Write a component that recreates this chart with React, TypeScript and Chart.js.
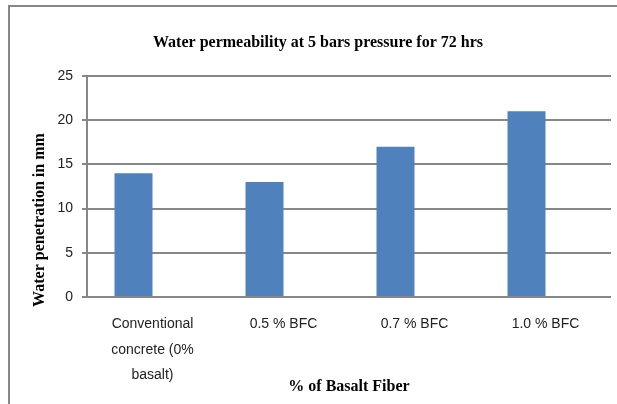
import React, { useEffect, useRef } from 'react';
import { Chart, registerables } from 'chart.js';

Chart.register(...registerables);

const CHART_TITLE = 'Water permeability at 5 bars pressure for 72 hrs';
const X_TITLE = '% of Basalt Fiber';
const Y_TITLE = 'Water penetration in mm';

const categories: (string | string[])[] = [
  ['Conventional', 'concrete (0%', 'basalt)'],
  '0.5 % BFC',
  '0.7 % BFC',
  '1.0 % BFC',
];
const waterPenetration = [14, 13, 17, 21];
const emptySeries = [null, null, null, null];

const Y_MIN = 0;
const Y_MAX = 25;
const Y_STEP = 5;

const GRID = '#878787';
const BAR = '#4F81BD';
const SANS = '"Liberation Sans", Arial, sans-serif';
const SERIF = '"Liberation Serif", "Times New Roman", serif';

const overlay = {
  id: 'overlay',
  beforeDraw(chart: any) {
    const ctx = chart.ctx;
    ctx.save();
    ctx.fillStyle = '#ffffff';
    ctx.fillRect(0, 0, chart.width, chart.height);
    ctx.strokeStyle = GRID;
    ctx.lineWidth = 2;
    ctx.strokeRect(9, 6, 800, 600);
    ctx.restore();
  },
  afterDraw(chart: any) {
    const ctx = chart.ctx;
    ctx.save();
    ctx.fillStyle = '#000000';
    ctx.font = `bold 16px ${SERIF}`;
    ctx.textAlign = 'center';
    ctx.textBaseline = 'middle';
    ctx.fillText(CHART_TITLE, 318, 43);
    ctx.translate(40, 220);
    ctx.rotate(-Math.PI / 2);
    ctx.fillText(Y_TITLE, 0, 0);
    ctx.restore();
  },
};

export default function App() {
  const ref = useRef<HTMLCanvasElement | null>(null);

  useEffect(() => {
    document.body.style.margin = '0';
    document.body.style.overflow = 'hidden';
    const canvas = ref.current;
    if (!canvas) return;
    const chart = new Chart(canvas, {
      type: 'bar',
      data: {
        labels: categories as any,
        datasets: [
          {
            label: 'Water penetration',
            data: waterPenetration,
            backgroundColor: BAR,
            borderWidth: 0,
            barPercentage: 1,
            categoryPercentage: 0.58,
          },
          {
            label: 'Empty',
            data: emptySeries as any,
            backgroundColor: BAR,
            borderWidth: 0,
            barPercentage: 1,
            categoryPercentage: 0.58,
          },
        ],
      },
      options: {
        responsive: false,
        animation: false,
        devicePixelRatio: 1,
        layout: { padding: { top: 76, right: 6, left: 0, bottom: 0 } },
        plugins: {
          legend: { display: false },
          title: { display: false },
          tooltip: { enabled: false },
        },
        scales: {
          x: {
            type: 'category',
            grid: { display: false, drawTicks: false },
            border: { display: false },
            ticks: {
              font: { family: SANS, size: 14, lineHeight: 1.8 },
              color: '#222222',
              padding: 15,
              maxRotation: 0,
              autoSkip: false,
            },
            title: {
              display: true,
              text: X_TITLE,
              font: { family: SERIF, size: 16, weight: 'bold' },
              color: '#000000',
              padding: { top: 0, bottom: 8 },
            },
            afterFit(scale: any) {
              scale.height = 107;
            },
          },
          y: {
            min: Y_MIN,
            max: Y_MAX,
            ticks: {
              stepSize: Y_STEP,
              font: { family: SANS, size: 14 },
              color: '#222222',
              padding: 9,
            },
            grid: { color: GRID, lineWidth: 2, tickLength: 5 },
            border: { display: true, color: GRID, width: 2 },
            afterFit(scale: any) {
              scale.width = 87;
            },
          },
        },
      },
      plugins: [overlay],
    } as any);
    return () => chart.destroy();
  }, []);

  return <canvas ref={ref} width={617} height={404} style={{ display: 'block' }} />;
}
